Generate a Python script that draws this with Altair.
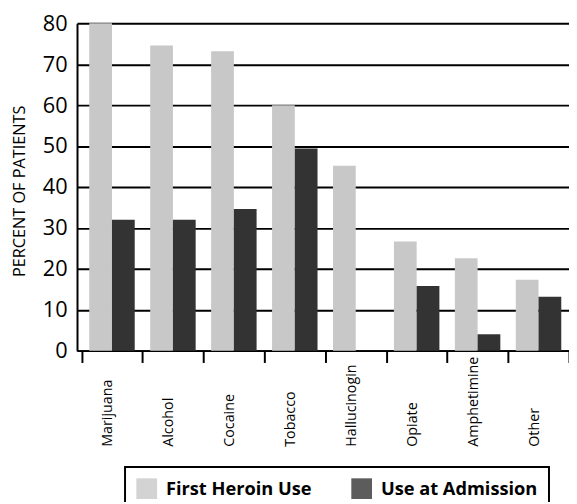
import altair as alt
import pandas as pd

drugs = ["Marijuana", "Alcohol", "Cocaine", "Tobacco", "Hallucinogin", "Opiate", "Amphetimine", "Other"]
first_use = [80, 74.6, 73.2, 60, 45.2, 26.7, 22.6, 17.3]
admission = [32, 32, 34.6, 49.4, 0, 15.8, 4.0, 13.2]
series = ["First Heroin Use", "Use at Admission"]
colors = ["#c8c8c8", "#333333"]
y_ticks = [0, 10, 20, 30, 40, 50, 60, 70, 80]

rows = []
for d, a, b in zip(drugs, first_use, admission):
    rows.append({"drug": d, "series": series[0], "value": a})
    rows.append({"drug": d, "series": series[1], "value": b})
df = pd.DataFrame(rows)

FONT = "Open Sans"

chart = alt.Chart(df).mark_bar().encode(
    x=alt.X(
        "drug:N",
        sort=drugs,
        scale=alt.Scale(paddingInner=0, paddingOuter=0.037, align=1),
        axis=alt.Axis(
            title=None, labelAngle=-90, labelAlign="left", labelBaseline="alphabetic",
            labelPadding=85, tickSize=12, tickWidth=2, tickColor="black", tickBand="extent",
            domainColor="black", domainWidth=2, labelFont=FONT, labelFontSize=14.5,
            labelColor="black", grid=False,
        ),
    ),
    xOffset=alt.XOffset("series:N", sort=series, scale=alt.Scale(paddingInner=0, paddingOuter=0.34)),
    y=alt.Y(
        "value:Q",
        scale=alt.Scale(domain=[0, 80], nice=False),
        axis=alt.Axis(
            title="PERCENT OF PATIENTS", values=y_ticks, ticks=False, labelPadding=10,
            labelFont=FONT, labelFontSize=22, labelColor="black",
            grid=True, gridColor="black", gridWidth=2, gridOpacity=1,
            domainColor="black", domainWidth=2,
            titleFont=FONT, titleFontSize=16.5, titleFontWeight="normal", titleColor="black",
            titleX=-53, titleY=170, titleBaseline="alphabetic",
        ),
    ),
    color=alt.Color(
        "series:N",
        scale=alt.Scale(domain=series, range=colors),
        legend=alt.Legend(
            orient="none", legendX=48.7, legendY=450, direction="horizontal", title=None,
            symbolType="square", symbolSize=441, symbolStrokeWidth=0, symbolOpacity=0.8,
            labelFont=FONT, labelFontSize=18.5, labelFontWeight="bold", labelColor="black",
            strokeColor="black", fillColor="white", padding=11.5, columnPadding=40,
            labelOffset=9, labelLimit=0,
        ),
    ),
).properties(
    width=499,
    height=332,
    autosize=alt.AutoSizeParams(type="none"),
    padding={"left": 70, "top": 12, "right": 0, "bottom": 150},
).configure_view(stroke=None).configure_legend(strokeWidth=2)

chart.save("out.html", embed_options={"renderer": "svg", "actions": False})
